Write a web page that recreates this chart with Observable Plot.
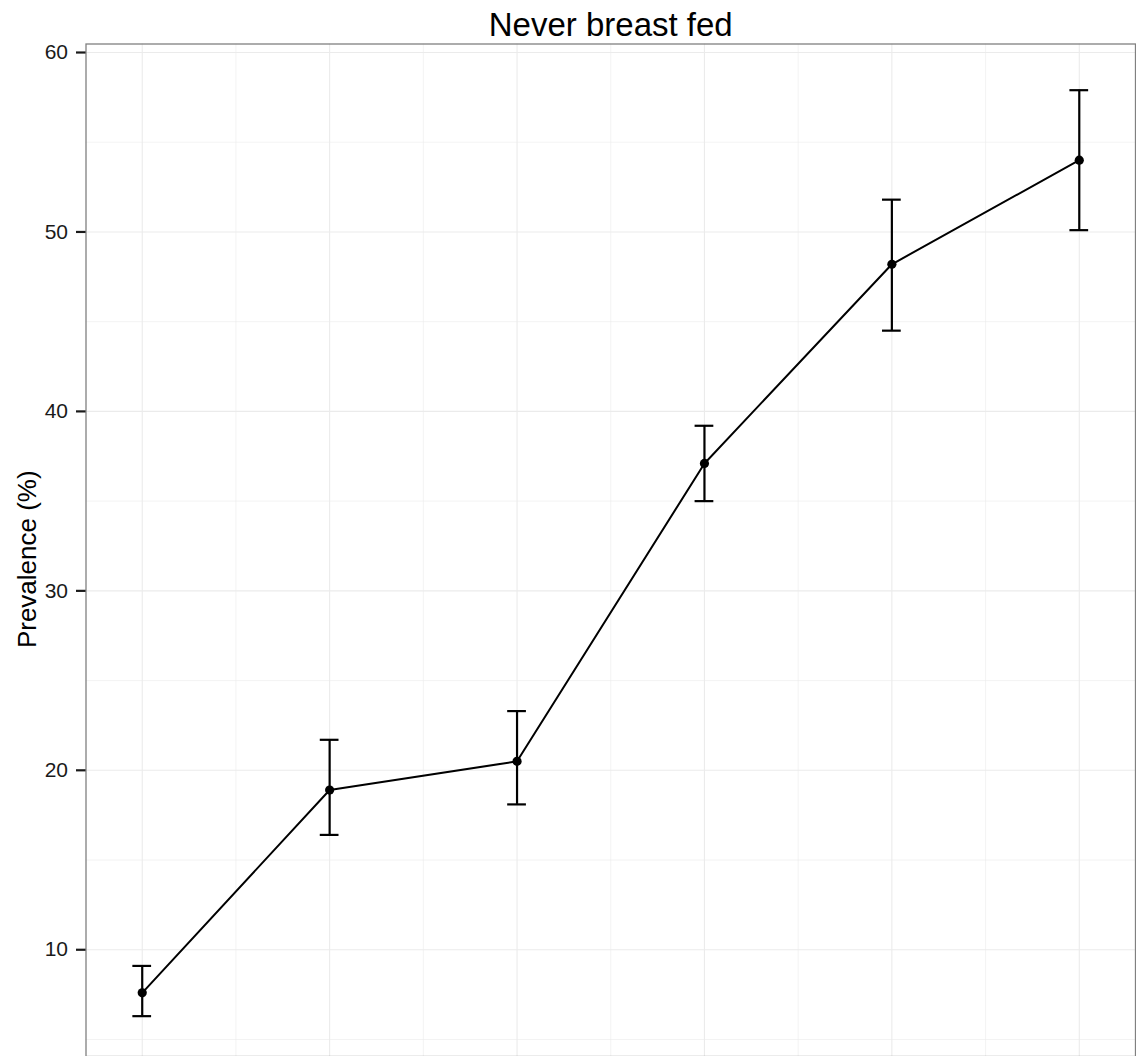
<!DOCTYPE html>
<html>
<head>
<meta charset="utf-8">
<script src="https://cdn.jsdelivr.net/npm/d3@7"></script>
<script src="https://cdn.jsdelivr.net/npm/@observablehq/plot@0.6"></script>
<style>
  html, body { margin: 0; padding: 0; background: #ffffff; }
  #chart { width: 1136px; height: 1056px; overflow: visible; }
</style>
</head>
<body>
<div id="chart"></div>
<script>
// ---- data ----
const chartTitle = "Never breast fed";
const yLabel = "Prevalence (%)";
const groups = [1, 2, 3, 4, 5, 6];
const prevalence = [7.6, 18.9, 20.5, 37.1, 48.2, 54.0];
const lower = [6.3, 16.4, 18.1, 35.0, 44.5, 50.1];
const upper = [9.1, 21.7, 23.3, 39.2, 51.8, 57.9];
const yTicks = [10, 20, 30, 40, 50, 60];
const yMinor = [5, 15, 25, 35, 45, 55];
const xMinor = [1.5, 2.5, 3.5, 4.5, 5.5];

const data = groups.map((g, i) => ({ g, p: prevalence[i], lo: lower[i], hi: upper[i] }));
const tickRows = yTicks.map(v => ({ v }));
const capHalf = 0.05;        // half-width of error-bar caps, in group units
const xDomain = [0.7, 6.3];
const yDomain = [4.052, 60.474];

// a horizontal dash symbol for the y-axis tick marks
const dashSymbol = {
  draw(context, size) {
    const r = Math.sqrt(size / Math.PI);
    context.moveTo(-r, 0);
    context.lineTo(r, 0);
  }
};

const chart = Plot.plot({
  width: 1136,
  height: 1056,
  marginTop: 43.5,
  marginLeft: 85.5,
  marginRight: 1,
  marginBottom: 0,
  style: { fontFamily: "'Liberation Sans', Arial, Helvetica, sans-serif", background: "#ffffff", color: "#000000", overflow: "visible" },
  x: { domain: xDomain, axis: null },
  y: { domain: yDomain, axis: null },
  marks: [
    // minor grid
    Plot.ruleX(xMinor, { stroke: "#ebebeb", strokeWidth: 0.6 }),
    Plot.ruleY(yMinor, { stroke: "#ebebeb", strokeWidth: 0.6 }),
    // major grid
    Plot.ruleX(groups, { stroke: "#ebebeb", strokeWidth: 1.1 }),
    Plot.ruleY(yTicks, { stroke: "#ebebeb", strokeWidth: 1.1 }),
    // y axis tick labels
    Plot.axisY(yTicks, {
      anchor: "left",
      tickSize: 0,
      tickPadding: 18,
      fontSize: 21,
      fill: "#1a1a1a",
      label: null,
      tickFormat: d => String(d)
    }),
    // y axis tick dashes, just left of the panel
    Plot.dot(tickRows, {
      frameAnchor: "left",
      y: "v",
      dx: -5,
      r: 5,
      symbol: dashSymbol,
      stroke: "#1a1a1a",
      strokeWidth: 2.2,
      fill: "none"
    }),
    // connecting line
    Plot.line(data, { x: "g", y: "p", stroke: "#000000", strokeWidth: 2 }),
    // error bars
    Plot.ruleX(data, { x: "g", y1: "lo", y2: "hi", stroke: "#000000", strokeWidth: 2.2 }),
    Plot.ruleY(data, { y: "lo", x1: d => d.g - capHalf, x2: d => d.g + capHalf, stroke: "#000000", strokeWidth: 2.2 }),
    Plot.ruleY(data, { y: "hi", x1: d => d.g - capHalf, x2: d => d.g + capHalf, stroke: "#000000", strokeWidth: 2.2 }),
    // points
    Plot.dot(data, { x: "g", y: "p", r: 4.6, fill: "#000000", stroke: null }),
    // panel border
    Plot.frame({ stroke: "#808080", strokeWidth: 1.3 }),
    // title
    Plot.text([chartTitle], {
      frameAnchor: "top",
      lineAnchor: "bottom",
      dy: -8.5,
      fontSize: 33,
      fill: "#000000"
    }),
    // y axis title
    Plot.text([yLabel], {
      frameAnchor: "left",
      rotate: -90,
      textAnchor: "middle",
      lineAnchor: "bottom",
      dx: -50.5,
      dy: 9,
      fontSize: 26,
      fill: "#000000"
    })
  ]
});

document.getElementById("chart").appendChild(chart);
</script>
</body>
</html>
